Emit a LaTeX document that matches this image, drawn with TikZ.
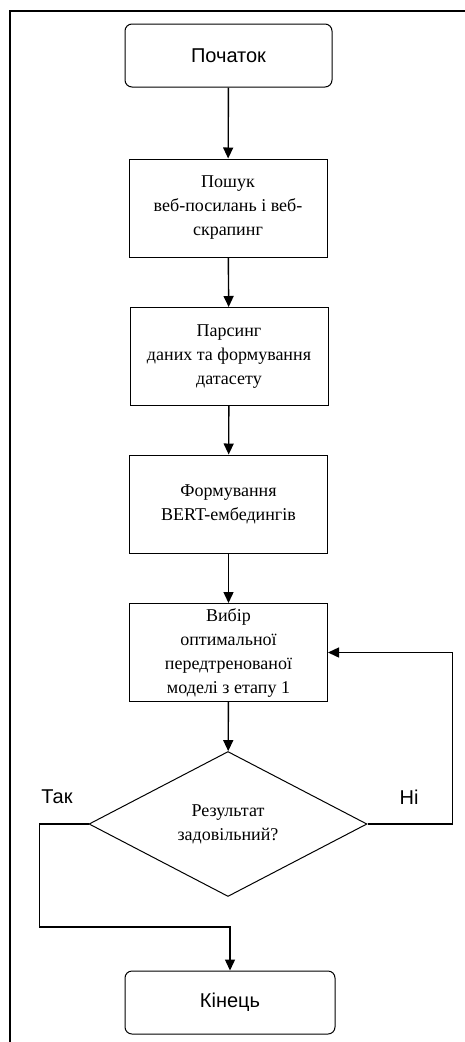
\documentclass[tikz,border=0pt]{standalone}
\usepackage{fontspec}
\setmainfont{Liberation Serif}
\setsansfont{Liberation Sans}
\usetikzlibrary{arrows.meta,shapes.geometric}
\tikzset{
	term/.style={draw,line width=1pt,rounded corners=7pt,minimum width=#1,minimum height=63pt,inner sep=0pt,font=\sffamily\fontsize{20}{24}\selectfont},
	proc/.style={draw,line width=1pt,minimum width=198pt,minimum height=98pt,inner sep=0pt,align=center,font=\fontsize{18}{24}\selectfont},
	cond/.style={draw,line width=1pt,diamond,aspect=1.92,minimum width=278pt,minimum height=145pt,inner sep=0pt,align=center,font=\fontsize{18}{24}\selectfont},
	lbl/.style={font=\sffamily\fontsize{20}{24}\selectfont,inner sep=0pt},
	flow/.style={line width=1.4pt,-{Triangle[length=11pt,width=10pt]}}
}
\begin{document}
\begin{tikzpicture}[x=1pt,y=-1pt]
	\useasboundingbox (0,0) rectangle (465,1042);
	\draw[line width=2pt] (10,1042) -- (10,11) -- (465,11);

	\node [term=207pt] (start) at (228.5,55.5) {Початок};
	\node [proc] (search) at (228,208) {Пошук\\веб-посилань і веб-\\скрапинг};
	\node [proc] (parse) at (229,356.5) {Парсинг\\даних та формування\\датасету};
	\node [proc] (embed) at (228.5,504) {Формування\\BERT-ембедингів};
	\node [proc] (select) at (228.5,652.5) {Вибір\\оптимальної\\передтренованої\\моделі з етапу 1};
	\node [cond] (check) at (228,824) {Результат\\задовільний?};
	\node [term=210pt] (finish) at (230,1002.5) {Кінець};

	\node [lbl] (yes) at (57,797) {Так};
	\node [lbl] (no) at (409,797) {Ні};

	\draw [flow] (start) -- (search);
	\draw [flow] (search) -- (parse);
	\draw [flow] (parse) -- (embed);
	\draw [flow] (embed) -- (select);
	\draw [flow] (select) -- (check);
	\draw [flow] (check.east) -- ++(85,0) |- (select.east);
	\draw [flow] (check.west) -- ++(-49,0) -- ++(0,103) -| (finish.north);
\end{tikzpicture}
\end{document}
